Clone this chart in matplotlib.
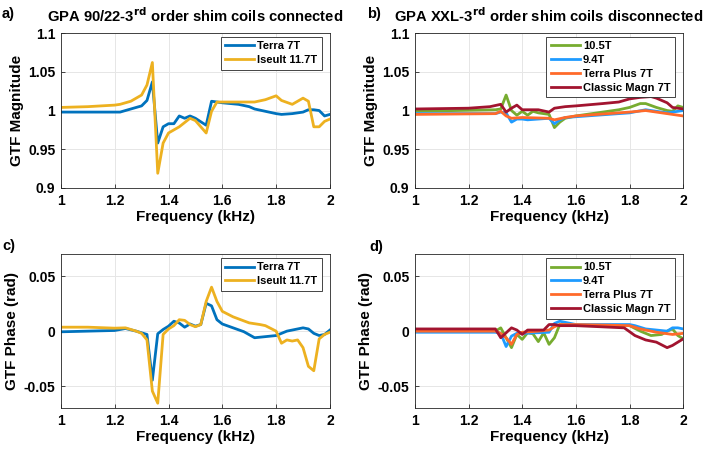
import matplotlib.pyplot as plt

plt.rcParams['font.family'] = ['Liberation Sans', 'DejaVu Sans']
plt.rcParams['font.weight'] = 'bold'
plt.rcParams['mathtext.default'] = 'bf'

# ---- panel a: GTF magnitude, 3rd order shim coils connected
freq_a_terra = [1.0, 1.1, 1.22, 1.26, 1.3, 1.32, 1.34, 1.36, 1.38, 1.40, 1.42, 1.44, 1.46, 1.48,
                1.50, 1.54, 1.56, 1.58, 1.6, 1.66, 1.7, 1.72, 1.76, 1.8, 1.82, 1.86, 1.9, 1.92,
                1.94, 1.96, 1.98, 2.0]
mag_terra = [0.998, 0.998, 0.998, 1.002, 1.006, 1.013, 1.037, 0.958, 0.979, 0.983, 0.983, 0.993,
             0.990, 0.993, 0.990, 0.981, 1.012, 1.011, 1.010, 1.008, 1.005, 1.002, 0.999, 0.996,
             0.995, 0.996, 0.998, 1.001, 1.001, 1.000, 0.993, 0.995]
freq_a_iseult = [1.0, 1.1, 1.2, 1.22, 1.26, 1.3, 1.32, 1.34, 1.36, 1.38, 1.40, 1.44, 1.48, 1.50,
                 1.54, 1.56, 1.58, 1.6, 1.7, 1.72, 1.76, 1.8, 1.82, 1.86, 1.9, 1.92, 1.94, 1.96,
                 1.98, 2.0]
mag_iseult = [1.004, 1.005, 1.007, 1.008, 1.012, 1.020, 1.033, 1.062, 0.919, 0.958, 0.971, 0.979,
              0.990, 0.987, 0.971, 0.999, 1.011, 1.011, 1.011, 1.011, 1.014, 1.019, 1.013, 1.008,
              1.016, 1.012, 0.979, 0.979, 0.986, 0.989]

# ---- panel c: GTF phase, 3rd order shim coils connected
freq_c_terra = [1.0, 1.2, 1.24, 1.28, 1.3, 1.32, 1.34, 1.36, 1.38, 1.40, 1.42, 1.44, 1.46, 1.48,
                1.50, 1.52, 1.54, 1.56, 1.58, 1.6, 1.64, 1.68, 1.72, 1.76, 1.8, 1.84, 1.88, 1.9,
                1.92, 1.94, 1.96, 1.98, 2.0]
phase_terra = [-0.0006, 0.0006, 0.0024, 0.0, -0.0015, -0.003, -0.0446, -0.0024, 0.0015, 0.0045,
               0.009, 0.0074, 0.0036, 0.0065, 0.0045, 0.006, 0.0253, 0.023, 0.0104, 0.0065, 0.003,
               -0.0005, -0.006, -0.005, -0.004, 0.0, 0.002, 0.003, 0.002, -0.002, -0.004, -0.003,
               0.001]
freq_c_iseult = [1.0, 1.1, 1.2, 1.24, 1.28, 1.3, 1.32, 1.34, 1.36, 1.38, 1.40, 1.42, 1.44, 1.46,
                 1.48, 1.50, 1.52, 1.54, 1.56, 1.58, 1.6, 1.64, 1.7, 1.74, 1.76, 1.8, 1.82, 1.84,
                 1.86, 1.88, 1.9, 1.92, 1.94, 1.96, 1.98, 2.0]
phase_iseult = [0.0036, 0.0036, 0.0027, 0.003, 0.0, -0.002, -0.008, -0.0545, -0.0655, -0.003,
                0.002, 0.005, 0.0104, 0.0098, 0.006, 0.004, 0.006, 0.027, 0.040, 0.027, 0.018,
                0.013, 0.0075, 0.006, 0.005, 0.0, -0.011, -0.008, -0.009, -0.008, -0.015, -0.032,
                -0.036, -0.007, -0.003, -0.001]

# ---- panel b: GTF magnitude, 3rd order shim coils disconnected
freq_b_105 = [1.0, 1.3, 1.32, 1.34, 1.36, 1.38, 1.40, 1.42, 1.44, 1.46, 1.50, 1.52, 1.54, 1.56,
              1.6, 1.7, 1.76, 1.8, 1.84, 1.86, 1.9, 1.94, 1.96, 1.98, 2.0]
mag_105 = [0.999, 1.001, 1.002, 1.020, 1.000, 0.994, 0.999, 0.994, 0.999, 0.997, 0.995, 0.978,
           0.985, 0.990, 0.993, 0.998, 1.001, 1.004, 1.009, 1.009, 1.004, 1.000, 0.999, 1.006,
           1.004]
freq_b_94 = [1.0, 1.3, 1.32, 1.34, 1.36, 1.38, 1.40, 1.42, 1.50, 1.52, 1.54, 1.56, 1.6, 1.8,
             1.86, 1.9, 1.94, 2.0]
mag_94 = [0.996, 0.996, 0.998, 0.997, 0.985, 0.989, 0.989, 0.988, 0.990, 0.983, 0.988, 0.991,
          0.992, 0.997, 1.001, 0.999, 0.997, 1.000]
freq_b_terra = [1.0, 1.3, 1.32, 1.34, 1.36, 1.40, 1.50, 1.52, 1.56, 1.6, 1.8, 1.86, 1.9, 1.94,
                1.98, 2.0]
mag_terra_plus = [0.995, 0.996, 0.999, 0.993, 0.990, 0.991, 0.990, 0.988, 0.991, 0.993, 0.998,
                  1.000, 0.998, 0.996, 0.994, 0.993]
freq_b_classic = [1.0, 1.2, 1.28, 1.32, 1.34, 1.36, 1.38, 1.40, 1.46, 1.50, 1.52, 1.56, 1.6, 1.7,
                  1.76, 1.8, 1.84, 1.88, 1.9, 1.94, 1.96, 2.0]
mag_classic = [1.002, 1.003, 1.005, 1.008, 0.998, 1.003, 1.007, 1.001, 1.001, 0.998, 1.003,
               1.005, 1.006, 1.009, 1.011, 1.015, 1.017, 1.018, 1.016, 1.010, 1.004, 1.002]

# ---- panel d: GTF phase, 3rd order shim coils disconnected
freq_d_105 = [1.0, 1.3, 1.32, 1.34, 1.36, 1.38, 1.40, 1.42, 1.44, 1.46, 1.48, 1.50, 1.52, 1.54,
              1.6, 1.8, 1.84, 1.88, 1.92, 1.94, 1.96, 1.98, 2.0]
phase_105 = [0.0, 0.0, 0.003, -0.006, -0.015, -0.003, -0.0075, -0.0015, -0.0024, -0.0095,
             -0.0015, -0.012, -0.006, 0.006, 0.005, 0.005, 0.0, -0.004, -0.003, 0.0, 0.002,
             -0.004, -0.007]
freq_d_94 = [1.0, 1.3, 1.32, 1.34, 1.36, 1.38, 1.40, 1.50, 1.52, 1.54, 1.6, 1.8, 1.82, 1.86, 1.9,
             1.94, 1.96, 1.98, 2.0]
phase_94 = [-0.001, -0.001, -0.002, -0.014, -0.0045, -0.002, -0.002, -0.001, 0.007, 0.009,
            0.006, 0.006, 0.005, 0.002, 0.001, 0.0, 0.003, 0.003, 0.002]
freq_d_terra = [1.0, 1.3, 1.32, 1.34, 1.36, 1.38, 1.40, 1.46, 1.50, 1.52, 1.54, 1.6, 1.8, 1.84,
                1.9, 1.96, 2.0]
phase_terra_plus = [0.0, 0.0, -0.002, -0.006, -0.012, -0.003, -0.001, 0.0, 0.001, 0.004, 0.006,
                    0.006, 0.005, 0.002, -0.001, -0.003, -0.002]
freq_d_classic = [1.0, 1.3, 1.32, 1.36, 1.38, 1.40, 1.42, 1.46, 1.48, 1.50, 1.52, 1.54, 1.6,
                  1.78, 1.82, 1.86, 1.9, 1.94, 1.96, 2.0]
phase_classic = [0.002, 0.002, -0.006, 0.003, 0.001, -0.003, 0.001, 0.001, 0.001, 0.006, 0.006,
                 0.005, 0.005, 0.003, -0.004, -0.008, -0.010, -0.015, -0.013, -0.007]

blue, yellow = '#0072BD', '#EDB120'
green, lblue, orange, dred = '#77AC30', '#1E9BFF', '#FF6A2A', '#A2142F'
lw = 2.0

fig = plt.figure(figsize=(7.08, 4.53), dpi=100)
ax_a = fig.add_axes([0.086, 0.585, 0.380, 0.342])
ax_b = fig.add_axes([0.586, 0.585, 0.379, 0.342])
ax_c = fig.add_axes([0.086, 0.099, 0.380, 0.340])
ax_d = fig.add_axes([0.586, 0.099, 0.379, 0.340])

ax_a.plot(freq_a_terra, mag_terra, color=blue, lw=lw, label='Terra 7T')
ax_a.plot(freq_a_iseult, mag_iseult, color=yellow, lw=lw, label='Iseult 11.7T')
ax_c.plot(freq_c_terra, phase_terra, color=blue, lw=lw, label='Terra 7T')
ax_c.plot(freq_c_iseult, phase_iseult, color=yellow, lw=lw, label='Iseult 11.7T')

ax_b.plot(freq_b_105, mag_105, color=green, lw=lw, label='10.5T')
ax_b.plot(freq_b_94, mag_94, color=lblue, lw=lw, label='9.4T')
ax_b.plot(freq_b_terra, mag_terra_plus, color=orange, lw=lw, label='Terra Plus 7T')
ax_b.plot(freq_b_classic, mag_classic, color=dred, lw=lw, label='Classic Magn 7T')
ax_d.plot(freq_d_105, phase_105, color=green, lw=lw, label='10.5T')
ax_d.plot(freq_d_94, phase_94, color=lblue, lw=lw, label='9.4T')
ax_d.plot(freq_d_terra, phase_terra_plus, color=orange, lw=lw, label='Terra Plus 7T')
ax_d.plot(freq_d_classic, phase_classic, color=dred, lw=lw, label='Classic Magn 7T')

for ax in [ax_a, ax_b]:
    ax.set_ylim(0.9, 1.1)
    ax.set_yticks([0.9, 0.95, 1.0, 1.05, 1.1])
    ax.set_yticklabels(['0.9', '0.95', '1', '1.05', '1.1'])
    ax.set_ylabel('GTF Magnitude', fontsize=11, fontweight='bold', labelpad=3)
for ax in [ax_c, ax_d]:
    ax.set_ylim(-0.07, 0.07)
    ax.set_yticks([-0.05, 0, 0.05])
    ax.set_yticklabels(['-0.05', '0', '0.05'])
    ax.set_ylabel('GTF Phase (rad)', fontsize=11, fontweight='bold', labelpad=3)

for ax in [ax_a, ax_b, ax_c, ax_d]:
    ax.set_xlim(1, 2)
    ax.set_xticks([1, 1.2, 1.4, 1.6, 1.8, 2])
    ax.set_xticklabels(['1', '1.2', '1.4', '1.6', '1.8', '2'])
    ax.set_xlabel('Frequency (kHz)', fontsize=11, fontweight='bold', labelpad=2)
    ax.grid(True, color='#e6e6e6', lw=0.7)
    ax.set_axisbelow(True)
    ax.tick_params(labelsize=10, direction='in', length=3, width=0.6, color='#262626', pad=4)
    for lab in ax.get_xticklabels() + ax.get_yticklabels():
        lab.set_fontweight('bold')
    for sp in ax.spines.values():
        sp.set_linewidth(0.6)
        sp.set_color('#262626')
    leg = ax.legend(loc='upper right', bbox_to_anchor=(0.97, 0.975), borderaxespad=0,
                    fontsize=8, frameon=True, fancybox=False, handlelength=2.6,
                    handletextpad=0.3, borderpad=0.4, labelspacing=0.35)
    leg.get_frame().set_edgecolor('#262626')
    leg.get_frame().set_linewidth(0.6)
    leg.get_frame().set_alpha(1)
    for t in leg.get_texts():
        t.set_fontweight('bold')

ax_a.set_title('GPA 90/22-3$^{rd}$ order shim coils connected', fontsize=10.6,
               fontweight='bold', pad=8)
ax_b.set_title('GPA XXL-3$^{rd}$ order shim coils disconnected', fontsize=10.6,
               fontweight='bold', pad=8)
fig.text(0.003, 0.968, 'a)', fontsize=10.5, fontweight='bold', va='center')
fig.text(0.518, 0.968, 'b)', fontsize=10.5, fontweight='bold', va='center')
fig.text(0.003, 0.458, 'c)', fontsize=10.5, fontweight='bold', va='center')
fig.text(0.522, 0.455, 'd)', fontsize=10.5, fontweight='bold', va='center')

fig.savefig('out.png', dpi=100)
